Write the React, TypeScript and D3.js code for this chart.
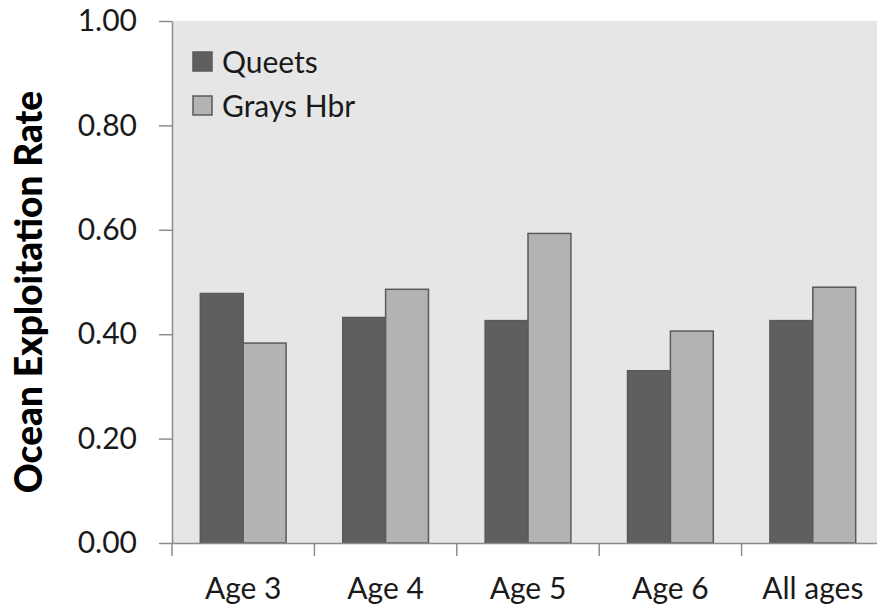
import React, { useEffect, useRef } from 'react';
import * as d3 from 'd3';

const categories = ['Age 3', 'Age 4', 'Age 5', 'Age 6', 'All ages'];
const seriesNames = ['Queets', 'Grays Hbr'];
const queets = [0.478, 0.432, 0.426, 0.33, 0.426];
const graysHbr = [0.383, 0.486, 0.593, 0.406, 0.49];
const yTicks = [0, 0.2, 0.4, 0.6, 0.8, 1.0];

const colors = ['#5f5f5f', '#b3b3b3'];
const FONT = 'Lato, "Open Sans", sans-serif';

const App: React.FC = () => {
  const svgRef = useRef<SVGSVGElement>(null);

  useEffect(() => {
    if (!svgRef.current) return;
    const svg = d3.select(svgRef.current);
    svg.selectAll('*').remove();

    const H = 611;
    const margin = { top: 21, left: 172, bottom: 68 };
    const plotRight = 884;
    const plotBottom = H - margin.bottom;

    const x = d3.scaleBand<string>()
      .domain(categories)
      .range([margin.left, plotRight])
      .paddingInner(0)
      .paddingOuter(0);

    const xs = d3.scaleBand<string>()
      .domain(seriesNames)
      .range([0, x.bandwidth()])
      .paddingInner(0)
      .paddingOuter(0.66);

    const y = d3.scaleLinear().domain([0, 1]).range([plotBottom, margin.top]);

    // plot background
    svg.append('rect')
      .attr('x', margin.left)
      .attr('y', margin.top)
      .attr('width', plotRight - margin.left)
      .attr('height', plotBottom - margin.top)
      .attr('fill', '#e6e6e6');

    const data = categories.map((c, i) => ({ cat: c, vals: [queets[i], graysHbr[i]] }));

    // bars
    const groups = svg.append('g')
      .selectAll('g')
      .data(data)
      .enter()
      .append('g')
      .attr('transform', d => `translate(${x(d.cat)},0)`);

    groups.selectAll('rect')
      .data(d => d.vals.map((v, j) => ({ key: seriesNames[j], v, j })))
      .enter()
      .append('rect')
      .attr('x', d => xs(d.key) as number)
      .attr('y', d => y(d.v))
      .attr('width', xs.bandwidth())
      .attr('height', d => plotBottom - y(d.v))
      .attr('fill', d => colors[d.j])
      .attr('stroke', '#5a5a5a')
      .attr('stroke-width', 1.5);

    // y axis
    const yAxis = svg.append('g')
      .attr('transform', `translate(${margin.left},0)`)
      .call(d3.axisLeft(y).tickValues(yTicks).tickFormat(d3.format('.2f')).tickSize(13).tickPadding(22).tickSizeOuter(0));
    yAxis.select('.domain').attr('stroke', '#8c8c8c').attr('stroke-width', 1.5);
    yAxis.selectAll('.tick line').attr('stroke', '#8c8c8c').attr('stroke-width', 1.5);
    yAxis.selectAll('.tick text')
      .attr('fill', '#1a1a1a')
      .style('font-family', FONT)
      .style('font-size', '30px');

    // x axis
    const xAxis = svg.append('g')
      .attr('transform', `translate(0,${plotBottom})`)
      .call(d3.axisBottom(x).tickSize(0).tickPadding(35).tickSizeOuter(0));
    xAxis.select('.domain').attr('stroke', '#8c8c8c').attr('stroke-width', 1.5);
    xAxis.selectAll('.tick text')
      .attr('fill', '#1a1a1a')
      .style('font-family', FONT)
      .style('font-size', '30px');

    // category separators
    svg.append('g')
      .selectAll('line')
      .data(categories)
      .enter()
      .append('line')
      .attr('x1', d => x(d) as number)
      .attr('x2', d => x(d) as number)
      .attr('y1', plotBottom)
      .attr('y2', plotBottom + 13)
      .attr('stroke', '#8c8c8c')
      .attr('stroke-width', 1.5);

    // y title
    svg.append('text')
      .attr('transform', `translate(42,${(margin.top + plotBottom) / 2 + 10}) rotate(-90)`)
      .attr('text-anchor', 'middle')
      .attr('fill', '#000')
      .style('font-family', FONT)
      .style('font-weight', 900)
      .style('font-size', '37px')
      .text('Ocean Exploitation Rate');

    // legend
    const legend = svg.append('g').attr('transform', 'translate(193,52)');
    seriesNames.forEach((name, i) => {
      const g = legend.append('g').attr('transform', `translate(0,${i * 44})`);
      g.append('rect')
        .attr('width', 19)
        .attr('height', 19)
        .attr('fill', colors[i])
        .attr('stroke', '#5a5a5a')
        .attr('stroke-width', 1.5);
      g.append('text')
        .attr('x', 29)
        .attr('y', 10)
        .attr('dy', '0.35em')
        .attr('fill', '#1a1a1a')
        .style('font-family', FONT)
        .style('font-size', '30px')
        .text(name);
    });
  }, []);

  return (
    <div style={{ position: 'fixed', left: 0, top: 0, width: 877, height: 611, background: '#fff' }}>
      <svg ref={svgRef} width={877} height={611} />
    </div>
  );
};

export default App;
